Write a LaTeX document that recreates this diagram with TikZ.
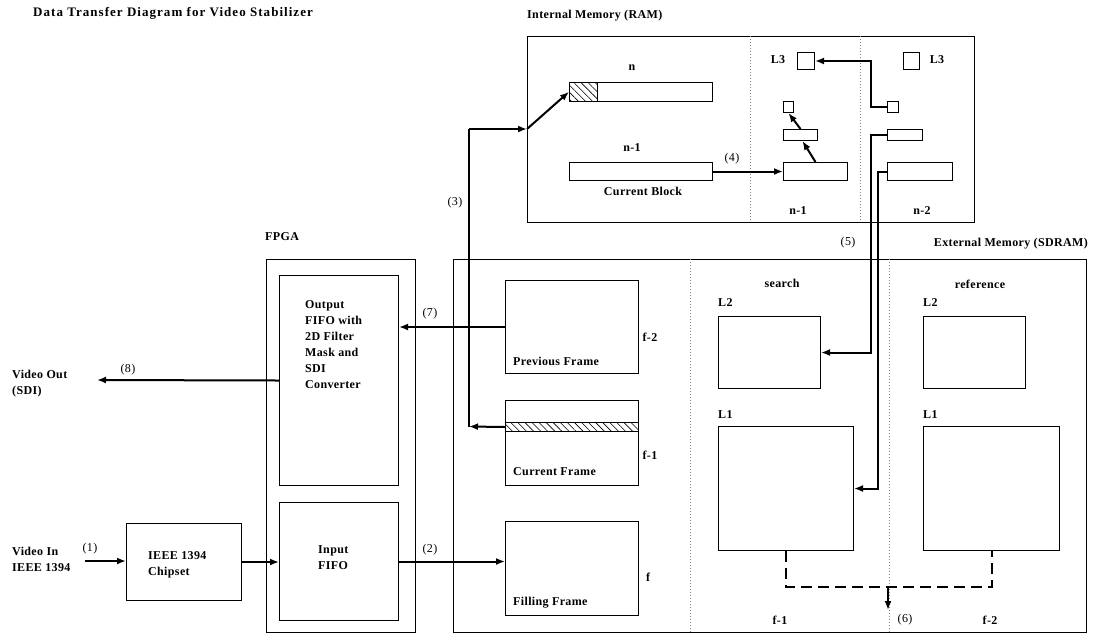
\documentclass[tikz,border=0pt]{standalone}
\usepackage{fontspec}
\setmainfont{Liberation Serif}[LetterSpace=3]
\usepackage{tikz}
\usetikzlibrary{positioning, arrows.meta, patterns.meta}

\begin{document}
\begin{tikzpicture}[
  x=1pt, y=-1pt,
  box/.style={draw, line width=1pt, anchor=north west, inner sep=0pt},
  lbl/.style={font=\bfseries\fontsize{12}{16}\selectfont, inner sep=0pt},
  num/.style={font=\fontsize{12}{14}\selectfont, inner sep=0pt},
  hatch/.style={box, pattern={Lines[angle=-45, distance=5pt, line width=0.6pt]}},
  arr/.style={-{Latex[length=9pt, width=7pt]}, line width=2pt},
  wire/.style={line width=2pt},
  divider/.style={dotted, gray, line width=1pt},
  merge/.style={dash pattern=on 11pt off 6pt, line width=2pt}
]
  \useasboundingbox (0,0) rectangle (1094,633);

  % title and group labels
  \node[lbl, anchor=west] (title) at (33,13)
    {\fontsize{13}{16}\selectfont\addfontfeatures{LetterSpace=8}Data Transfer Diagram for Video Stabilizer};
  \node[lbl, anchor=west] (ramlbl) at (527,16) {Internal Memory (RAM)};
  \node[lbl, anchor=east] (sdramlbl) at (1088,244) {External Memory (SDRAM)};
  \node[lbl, anchor=west] (fpgalbl) at (265,237) {FPGA};

  % internal memory
  \node[box, minimum width=447, minimum height=186] (ram) at (527,36) {};
  \draw[divider] (750,36) -- (750,222);
  \draw[divider] (860,36) -- (860,222);
  \node[box, minimum width=143, minimum height=19] (nbar) at (569,82) {};
  \node[hatch, minimum width=28, minimum height=19] (nhatch) at (569,82) {};
  \node[lbl] (nlbl) at (632,68) {n};
  \node[box, minimum width=143, minimum height=18] (n1bar) at (569,162) {};
  \node[lbl] (n1lbl) at (632,148) {n-1};
  \node[lbl] (cblk) at (643,191) {Current Block};
  \node[box, minimum width=64, minimum height=18] (t1bar) at (783,162) {};
  \node[box, minimum width=34, minimum height=11] (t1mid) at (783,129) {};
  \node[box, minimum width=10, minimum height=11] (t1sq) at (783,101) {};
  \node[box, minimum width=17, minimum height=17] (l3a) at (797,52) {};
  \node[lbl] (l3albl) at (778,60) {L3};
  \node[box, minimum width=16, minimum height=17] (l3b) at (903,52) {};
  \node[lbl] (l3blbl) at (937,60) {L3};
  \node[box, minimum width=11, minimum height=11] (t2sq) at (887,101) {};
  \node[box, minimum width=35, minimum height=11] (t2mid) at (887,129) {};
  \node[box, minimum width=65, minimum height=18] (t2bar) at (887,162) {};
  \node[lbl] (c1lbl) at (798,211) {n-1};
  \node[lbl] (c2lbl) at (922,211) {n-2};

  % fpga
  \node[box, minimum width=149, minimum height=372.5] (fpga) at (266,259) {};
  \node[box, minimum width=119, minimum height=210] (ofifo) at (279,275) {};
  \node[lbl, anchor=west, align=left] (ofifotxt) at (305,345)
    {Output\\FIFO with\\2D Filter\\Mask and\\SDI\\Converter};
  \node[box, minimum width=119, minimum height=118] (ififo) at (279,502) {};
  \node[lbl, anchor=west, align=left] (ififotxt) at (318,558) {Input\\FIFO};
  \node[box, minimum width=115, minimum height=77] (chip) at (126,523) {};
  \node[lbl, anchor=west, align=left] (chiptxt) at (148,565) {IEEE 1394\\Chipset};
  \node[lbl, anchor=west, align=left] (vin) at (12,559) {Video In\\IEEE 1394};
  \node[lbl, anchor=west, align=left] (vout) at (12,384) {Video Out\\(SDI)};

  % external memory
  \node[box, minimum width=633, minimum height=372.5] (sdram) at (453,259) {};
  \draw[divider] (690,259) -- (690,632);
  \draw[divider] (889,259) -- (889,632);
  \node[box, minimum width=133, minimum height=93] (prev) at (505,280) {};
  \node[lbl, anchor=west] (prevtxt) at (513,361) {Previous Frame};
  \node[lbl] (f2lbl) at (650,337) {f-2};
  \node[box, minimum width=133, minimum height=85] (curr) at (505,400) {};
  \node[hatch, minimum width=133, minimum height=9] (strip) at (505,422) {};
  \node[lbl, anchor=west] (currtxt) at (513,472) {Current Frame};
  \node[lbl] (f1lbl) at (650,455) {f-1};
  \node[box, minimum width=133, minimum height=94] (fill) at (505,521) {};
  \node[lbl, anchor=west] (filltxt) at (513,603) {Filling Frame};
  \node[lbl] (flbl) at (648,577) {f};
  \node[lbl] (search) at (782,283) {search};
  \node[lbl] (refer) at (980,284) {reference};
  \node[box, minimum width=102, minimum height=72] (sl2) at (718,316) {};
  \node[lbl, anchor=west] (sl2lbl) at (718,303) {L2};
  \node[box, minimum width=135, minimum height=124] (sl1) at (718,426) {};
  \node[lbl, anchor=west] (sl1lbl) at (718,415) {L1};
  \node[box, minimum width=102, minimum height=72] (rl2) at (923,316) {};
  \node[lbl, anchor=west] (rl2lbl) at (923,303) {L2};
  \node[box, minimum width=136, minimum height=124] (rl1) at (923,426) {};
  \node[lbl, anchor=west] (rl1lbl) at (923,415) {L1};
  \node[lbl] (sf1) at (780,620) {f-1};
  \node[lbl] (rf2) at (990,620) {f-2};

  % transfers
  \coordinate (in1) at (85,561);
  \coordinate (out8) at (97,380);
  \draw[arr] (in1) -- (in1 -| chip.west);
  \draw[arr] (chip.east) -- (chip.east -| ififo.west);
  \draw[arr] (ififo.east) -- (ififo.east -| fill.west);
  \draw[arr] (prev.west) -- (prev.west -| ofifo.east);
  \draw[arr] (ofifo.west) -- (out8);
  \coordinate (up3) at (469,426.5);
  \coordinate (top3) at (469,129);
  \draw[arr] (strip.west) -- (up3);
  \draw[wire] (up3) -- (top3);
  \draw[arr] (top3) -- (top3 -| ram.west);
  \draw[arr] (top3 -| ram.west) -- (nhatch.west);
  \draw[arr] (n1bar.east) -- (t1bar.west);
  \draw[arr] (t1bar.north) -- ([xshift=2pt]t1mid.south);
  \draw[arr] (t1mid.north) -- (t1sq.south);
  \draw[arr] (t2sq.west) -- ++(-16,0) |- (l3a.east);
  \draw[arr] (t2mid.west) -- ++(-16,0) |- (sl2.east);
  \draw[arr] (t2bar.west) -- ++(-9,0) |- (sl1.east);
  \coordinate (d6) at (888,586);
  \draw[merge] (sl1.south) -- ++(0,36) -| (rl1.south);
  \draw[arr] (d6) -- ++(0,24);

  % transfer numbers
  \node[num] (n1) at (90,549) {(1)};
  \node[num] (n2) at (430,550) {(2)};
  \node[num] (n3) at (455,203) {(3)};
  \node[num] (n4) at (732,159) {(4)};
  \node[num] (n5) at (848,243) {(5)};
  \node[num] (n6) at (905,620) {(6)};
  \node[num] (n7) at (430,314) {(7)};
  \node[num] (n8) at (128,370) {(8)};
\end{tikzpicture}
\end{document}
